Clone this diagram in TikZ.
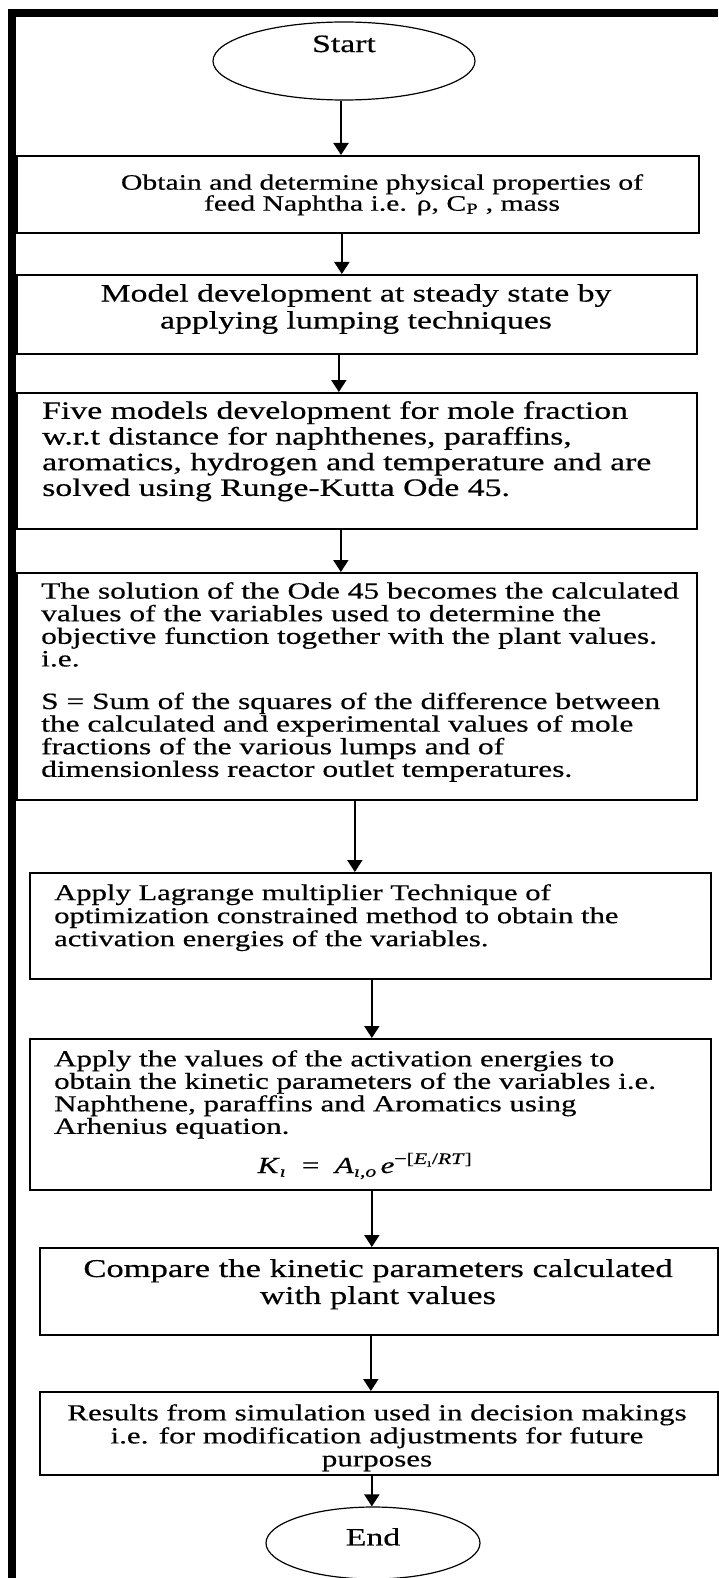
\documentclass[tikz,border=0pt]{standalone}
\usepackage{fontspec}
\setmainfont{Liberation Serif}[FakeStretch=1.35,FakeBold=0.5]
\usetikzlibrary{shapes.geometric,arrows.meta}
\begin{document}
\begin{tikzpicture}[x=1pt,y=-1pt,
  box/.style={draw,rectangle,line width=1.7pt,inner sep=0pt,anchor=north west},
  oval/.style={draw,ellipse,line width=1.2pt,inner sep=0pt,font={\fontsize{25pt}{25pt}\selectfont}},
  txtl/.style={anchor=north west,inner sep=0pt,align=left},
  txtc/.style={anchor=north,inner sep=0pt,align=center},
  arr/.style={line width=2pt,-{Triangle[width=15pt,length=12pt]}},
  bar/.style={fill=black}]
\useasboundingbox (0,0) rectangle (718,1578);
% frame bars
\fill[bar] (8,9) rectangle (718,17);
\fill[bar] (8,9) rectangle (16,1578);
% terminals
\node[oval,minimum width=262pt,minimum height=78pt,text depth=34.5pt] (st) at (344,61) {Start};
\node[oval,minimum width=214pt,minimum height=72pt,text depth=12.5pt] (en) at (373,1543) {End};
% boxes
\node[box,minimum width=682pt,minimum height=77pt] (b1) at (16,155) {};
\node[box,minimum width=680pt,minimum height=79pt] (b2) at (16,274) {};
\node[box,minimum width=680pt,minimum height=136pt] (b3) at (16,392) {};
\node[box,minimum width=680pt,minimum height=227pt] (b4) at (16,572) {};
\node[box,minimum width=681pt,minimum height=106pt] (b5) at (29,872) {};
\node[box,minimum width=681pt,minimum height=151pt] (b6) at (29,1038) {};
\node[box,minimum width=678pt,minimum height=87pt] (b7) at (39,1247) {};
\node[box,minimum width=678pt,minimum height=83pt] (b8) at (39,1391) {};
% texts
\node[txtc,font={\fontsize{22pt}{21pt}\selectfont}] (t1) at (382,174)
  {Obtain and determine physical properties of\\ feed Naphtha i.e. ρ, C\textsubscript{P} , mass};
\node[txtc,font={\fontsize{25pt}{27pt}\selectfont}] (t2) at (356,284)
  {Model development at steady state by\\ applying lumping techniques};
\node[txtl,font={\fontsize{25pt}{25.7pt}\selectfont}] (t3) at (42,401)
  {Five models development for mole fraction\\ w.r.t distance for naphthenes, paraffins,\\ aromatics, hydrogen and temperature and are\\ solved using Runge-Kutta Ode 45.};
\node[txtl,font={\fontsize{23.3pt}{22.6pt}\selectfont}] (t4) at (41,582)
  {The solution of the Ode 45 becomes the calculated\\ values of the variables used to determine the\\ objective function together with the plant values.\\ i.e.\\[20pt] S = Sum of the squares of the difference between\\ the calculated and experimental values of mole\\ fractions of the various lumps and of\\ dimensionless reactor outlet temperatures.};
\node[txtl,font={\fontsize{22.7pt}{23pt}\selectfont}] (t5) at (54,884)
  {Apply Lagrange multiplier Technique of\\ optimization constrained method to obtain the\\ activation energies of the variables.};
\node[txtl,font={\fontsize{22.9pt}{22.5pt}\selectfont}] (t6) at (54,1050)
  {Apply the values of the activation energies to\\ obtain the kinetic parameters of the variables i.e.\\ Naphthene, paraffins and Aromatics using\\ Arhenius equation.};
\node[anchor=base,inner sep=0pt,font={\fontsize{23pt}{23pt}\selectfont}] (f6) at (365,1173)
  {\textit{K}\textsubscript{\textit{ı}}~~=~~\textit{A}\textsubscript{\textit{ı,o}}\,\textit{e}\textsuperscript{−[\textit{E}\textsubscript{ı}/\textit{RT}]}};
\node[txtc,font={\fontsize{25.6pt}{27pt}\selectfont}] (t7) at (378,1259)
  {Compare the kinetic parameters calculated\\ with plant values};
\node[txtc,font={\fontsize{23pt}{23pt}\selectfont}] (t8) at (377,1404)
  {Results from simulation used in decision makings\\ i.e. for modification adjustments for future\\ purposes};
% connectors
\draw[arr] ([xshift=-3pt]st.south) -- ([xshift=-3pt]st.south |- b1.north);
\draw[arr] ([xshift=-16pt]b1.south) -- ([xshift=-16pt]b1.south |- b2.north);
\draw[arr] ([xshift=-18pt]b2.south) -- ([xshift=-18pt]b2.south |- b3.north);
\draw[arr] ([xshift=-16pt]b3.south) -- ([xshift=-16pt]b3.south |- b4.north);
\draw[arr] ([xshift=-2pt]b4.south) -- ([xshift=-2pt]b4.south |- b5.north);
\draw[arr] ([xshift=1.5pt]b5.south) -- ([xshift=1.5pt]b5.south |- b6.north);
\draw[arr] ([xshift=1.5pt]b6.south) -- ([xshift=1.5pt]b6.south |- b7.north);
\draw[arr] ([xshift=-8pt]b7.south) -- ([xshift=-8pt]b7.south |- b8.north);
\draw[arr] ([xshift=-7pt]b8.south) -- ([xshift=-7pt]b8.south |- en.north);
\end{tikzpicture}
\end{document}
